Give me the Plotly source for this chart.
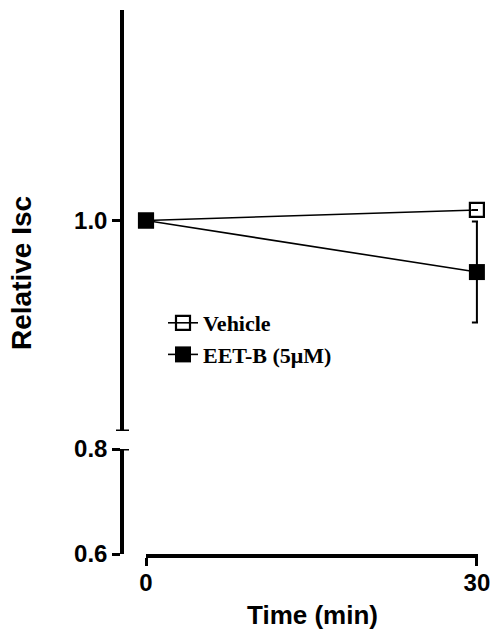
import plotly.graph_objects as go

# Data
time_min = [0, 30]
vehicle = [1.0, 1.01]
vehicle_err = [0.0, 0.0]
eetb = [1.0, 0.951]
eetb_err = [0.0, 0.048]
series_names = ["Vehicle", "EET-B (5\u03bcM)"]

W, H = 492, 634
ML, MR, MT, MB = 0, 0, 10, 80
PW = W - ML - MR
PH = H - MT - MB

def px_x(p):
    return (p - ML) / PW

def px_y(p):
    return (H - MB - p) / PH

fig = go.Figure()

fig.add_trace(go.Scatter(
    x=time_min, y=vehicle, name=series_names[0], legendgroup="a",
    mode="lines+markers", xaxis="x", yaxis="y2",
    line=dict(color="black", width=1.6),
    marker=dict(symbol="square-open", size=14, color="black", line=dict(width=2.2, color="black")),
    error_y=dict(type="data", array=vehicle_err, visible=True, color="black", thickness=2, width=5),
    cliponaxis=False,
))
fig.add_trace(go.Scatter(
    x=time_min, y=eetb, name=series_names[1], legendgroup="b",
    mode="lines+markers", xaxis="x", yaxis="y2",
    line=dict(color="black", width=1.6),
    marker=dict(symbol="square", size=16, color="black"),
    error_y=dict(type="data", array=eetb_err, visible=True, color="black", thickness=2, width=5),
    cliponaxis=False,
))

tickfont = dict(family="Liberation Sans, Arial", size=24, color="black", weight="bold")

fig.update_layout(
    width=W, height=H,
    margin=dict(l=ML, r=MR, t=MT, b=MB, autoexpand=False),
    paper_bgcolor="white", plot_bgcolor="white",
    showlegend=True,
    legend=dict(
        x=px_x(163), y=px_y(302), xanchor="left", yanchor="top",
        font=dict(family="Liberation Serif, Times New Roman", size=22, color="black", weight="bold"),
        bgcolor="rgba(0,0,0,0)", tracegroupgap=0, itemwidth=30,
    ),
    xaxis=dict(
        domain=[px_x(146), px_x(478)], range=[0, 30.1], anchor="y",
        showline=True, linewidth=3.5, linecolor="black",
        ticks="outside", ticklen=8, tickwidth=3, tickcolor="black",
        tickvals=time_min, ticktext=[str(t) for t in time_min], ticklabelstandoff=-4,
        tickfont=tickfont, showgrid=False, zeroline=False, automargin=False,
    ),
    yaxis=dict(
        domain=[0, px_y(449)], range=[0.6, 0.8], anchor="free", position=px_x(122),
        showline=True, linewidth=3.5, linecolor="black",
        ticks="outside", ticklen=8, tickwidth=3, tickcolor="black",
        tickvals=[0.6, 0.8], ticktext=["0.6", "0.8"],
        tickfont=tickfont, showgrid=False, zeroline=False, automargin=False,
    ),
    yaxis2=dict(
        domain=[px_y(431), px_y(10)], range=[0.8, 1.2], anchor="free", position=px_x(122),
        showline=True, linewidth=3.5, linecolor="black",
        ticks="outside", ticklen=8, tickwidth=3, tickcolor="black",
        tickvals=[1.0], ticktext=["1.0"],
        tickfont=tickfont, showgrid=False, zeroline=False, automargin=False,
    ),
    annotations=[
        dict(text="Relative Isc", xref="paper", yref="paper", x=px_x(21), y=px_y(273),
             textangle=-90, showarrow=False, xanchor="center", yanchor="middle",
             font=dict(family="Liberation Sans, Arial", size=28, color="black", weight="bold")),
        dict(text="Time (min)", xref="paper", yref="paper", x=px_x(312), y=px_y(615),
             showarrow=False, xanchor="center", yanchor="middle",
             font=dict(family="Liberation Sans, Arial", size=26, color="black", weight="bold")),
    ],
    shapes=[
        # axis-break caps
        dict(type="line", xref="paper", yref="y2", x0=px_x(116), x1=px_x(129), y0=0.8, y1=0.8,
             line=dict(color="black", width=3)),
        dict(type="line", xref="paper", yref="y", x0=px_x(121), x1=px_x(129), y0=0.8, y1=0.8,
             line=dict(color="black", width=3)),
    ],
)

fig.write_html("out.html")
